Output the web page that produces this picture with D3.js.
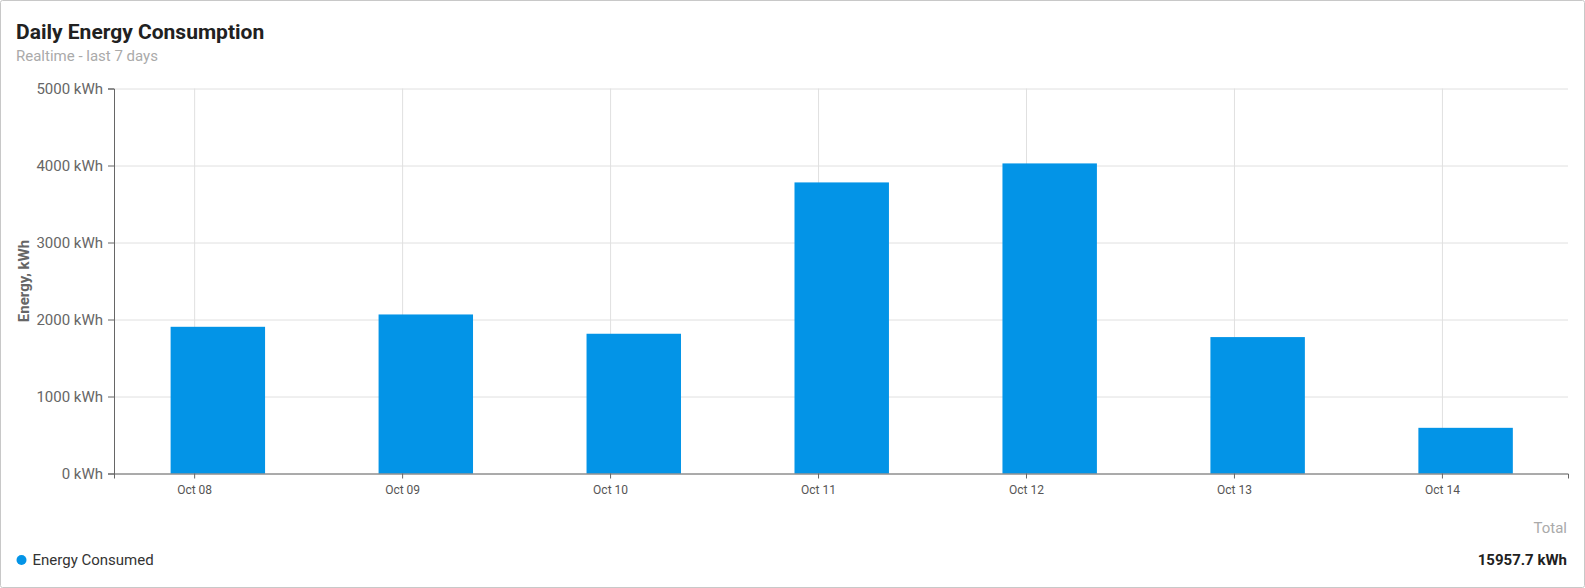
<!DOCTYPE html>
<html>
<head>
<meta charset="utf-8">
<script src="https://cdn.jsdelivr.net/npm/d3@7"></script>
<style>
  html, body { margin: 0; padding: 0; background: #fff; }
  body { font-family: Roboto, "Noto Sans", sans-serif; }
  .y-axis .tick text { font-size: 15px; fill: #666; }
  .x-axis .tick text { font-size: 12px; fill: #555; }
  .axis path, .axis line { stroke: #666; }
  .grid line { stroke: #e0e0e0; }
  .grid path { display: none; }
</style>
</head>
<body>
<div id="chart"></div>
<script>
// data
const days = ["2023-10-08", "2023-10-09", "2023-10-10", "2023-10-11", "2023-10-12", "2023-10-13", "2023-10-14"];
const energy = [1905.2, 2065.4, 1814.9, 3780.3, 4027.1, 1771.6, 593.2];
const yTicks = [0, 1000, 2000, 3000, 4000, 5000];
const seriesName = "Energy Consumed";

const width = 1585;
const height = 588;
const margin = { top: 88.5, right: 17, bottom: 114.5, left: 114 };

const parse = d3.timeParse("%Y-%m-%d");
const dates = days.map(parse);
const data = dates.map((d, i) => ({ date: d, value: energy[i] }));

// minutes, d3 intervals floor the step so keep these whole
const padStart = -555, padEnd = 873;
const barFrom = -163, barTo = 491;

const svg = d3
    .select("#chart")
    .append("svg")
    .attr("width", width)
    .attr("height", height)
    .style("display", "block");

// card border
svg.append("rect")
    .attr("x", 0.5).attr("y", 0.5)
    .attr("width", width - 1).attr("height", height - 1)
    .attr("rx", 2)
    .attr("fill", "#fff")
    .attr("stroke", "#c8c8c8");

svg.append("text")
    .attr("x", 16).attr("y", 38.5)
    .style("font-size", "21px")
    .style("font-weight", "bold")
    .attr("fill", "#212121")
    .text("Daily Energy Consumption");

svg.append("text")
    .attr("x", 16).attr("y", 60.5)
    .style("font-size", "15px")
    .attr("fill", "#aaa")
    .text("Realtime - last 7 days");

const xScale = d3
    .scaleTime()
    .domain([d3.timeMinute.offset(dates[0], padStart), d3.timeMinute.offset(dates[dates.length - 1], padEnd)])
    .range([margin.left, width - margin.right]);

const yScale = d3
    .scaleLinear()
    .domain([0, 5000])
    .range([height - margin.bottom, margin.top]);

// grid
svg.append("g")
    .attr("class", "grid")
    .attr("transform", `translate(0,${height - margin.bottom})`)
    .call(d3.axisBottom(xScale).tickValues(dates).tickSize(-(height - margin.bottom - margin.top)).tickFormat(""));

svg.append("g")
    .attr("class", "grid")
    .attr("transform", `translate(${margin.left},0)`)
    .call(d3.axisLeft(yScale).tickValues(yTicks).tickSize(-(width - margin.left - margin.right)).tickFormat(""));

// bars
svg.append("g")
    .selectAll("rect")
    .data(data)
    .join("rect")
    .attr("fill", "#0394e7")
    .attr("x", d => xScale(d3.timeMinute.offset(d.date, barFrom)))
    .attr("width", d => xScale(d3.timeMinute.offset(d.date, barTo)) - xScale(d3.timeMinute.offset(d.date, barFrom)))
    .attr("y", d => yScale(d.value))
    .attr("height", d => yScale(0) - yScale(d.value));

// axes
svg.append("g")
    .attr("class", "axis x-axis")
    .attr("transform", `translate(0,${height - margin.bottom})`)
    .call(d3.axisBottom(xScale).tickValues(dates).tickSizeOuter(0).tickSize(5).tickPadding(6.5).tickFormat(d3.timeFormat("%b %d")));

svg.append("g")
    .attr("class", "axis y-axis")
    .attr("transform", `translate(${margin.left},0)`)
    .call(d3.axisLeft(yScale).tickValues(yTicks).tickSize(6).tickPadding(5).tickFormat(d => d + " kWh"));

svg.selectAll(".axis").attr("font-family", null).attr("font-size", null);

svg.append("text")
    .attr("transform", "rotate(-90)")
    .attr("x", -(margin.top + (height - margin.bottom - margin.top) / 2))
    .attr("y", 28.5)
    .attr("text-anchor", "middle")
    .style("font-size", "15px")
    .style("font-weight", "bold")
    .attr("fill", "#666")
    .text("Energy, kWh");

// legend
svg.append("circle")
    .attr("cx", 21.5).attr("cy", 560)
    .attr("r", 5)
    .attr("fill", "#0394e7");

svg.append("text")
    .attr("x", 32.5).attr("y", 565)
    .style("font-size", "15px")
    .attr("fill", "#333")
    .text(seriesName);

// total
svg.append("text")
    .attr("x", width - 18).attr("y", 533)
    .attr("text-anchor", "end")
    .style("font-size", "15px")
    .attr("fill", "#aaa")
    .text("Total");

svg.append("text")
    .attr("x", width - 18).attr("y", 565)
    .attr("text-anchor", "end")
    .style("font-size", "15px")
    .style("font-weight", "bold")
    .attr("fill", "#212121")
    .text(d3.format(".1f")(d3.sum(energy)) + " kWh");
</script>
</body>
</html>
